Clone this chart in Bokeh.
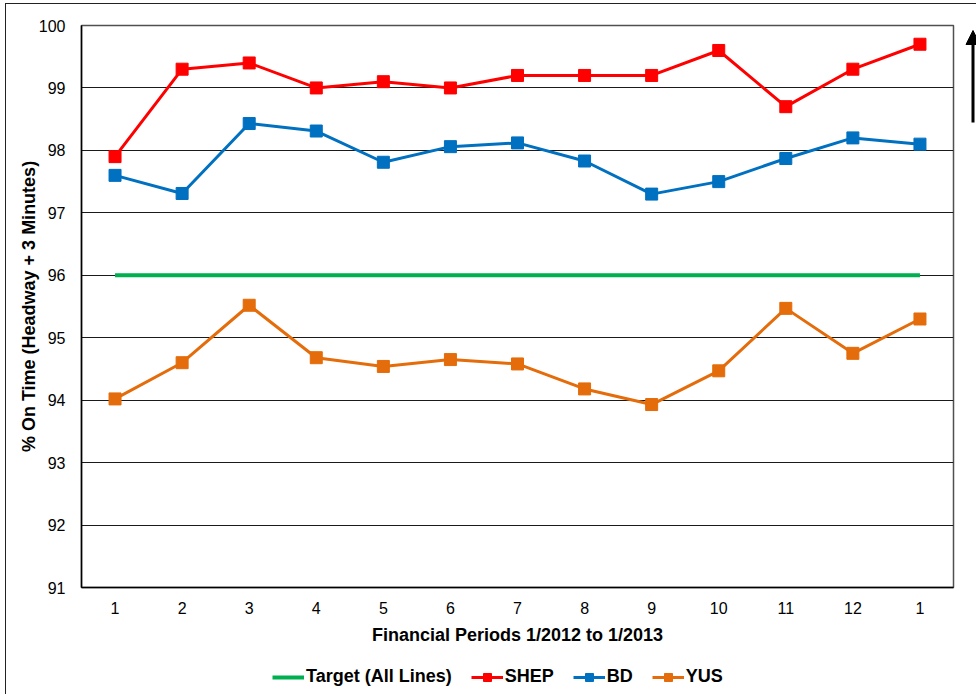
from bokeh.plotting import figure
from bokeh.layouts import row, column
from bokeh.models import (Range1d, FixedTicker, Legend, LegendItem, Arrow,
                          NormalHead)
from bokeh.embed import file_html
from bokeh.resources import INLINE

# Financial periods 1/2012 .. 1/2013 (13 periods)
periods = list(range(1, 14))
period_labels = ["1", "2", "3", "4", "5", "6", "7", "8", "9", "10", "11", "12", "1"]

# % on time (headway + 3 minutes) per line
target = [96.0] * 13
shep = [97.9, 99.3, 99.4, 99.0, 99.1, 99.0, 99.2, 99.2, 99.2, 99.6, 98.7, 99.3, 99.7]
bd = [97.6, 97.31, 98.43, 98.31, 97.81, 98.06, 98.12, 97.83, 97.3, 97.5, 97.87, 98.2, 98.1]
yus = [94.02, 94.6, 95.52, 94.68, 94.54, 94.65, 94.58, 94.18, 93.93, 94.47, 95.47, 94.75, 95.3]

y_ticks = [91, 92, 93, 94, 95, 96, 97, 98, 99, 100]

series_names = ["Target (All Lines)", "SHEP", "BD", "YUS"]
series_colors = ["#00B050", "#FF0000", "#0070C0", "#E46C0A"]
series_values = [target, shep, bd, yus]

FONT = "Liberation Sans"

p = figure(width=950, height=647, output_backend="svg", toolbar_location=None,
           x_range=Range1d(0.5, 13.5), y_range=Range1d(91, 100),
           min_border_left=75, min_border_right=3, min_border_top=21,
           min_border_bottom=64)

p.background_fill_color = "white"
p.border_fill_color = "white"
p.outline_line_color = "#505050"
p.outline_line_width = 1.5

# axes
p.xaxis.ticker = FixedTicker(ticks=periods)
p.xaxis.major_label_overrides = {i: lab for i, lab in zip(periods, period_labels)}
p.yaxis.ticker = FixedTicker(ticks=y_ticks)
for ax in (p.xaxis[0], p.yaxis[0]):
    ax.major_tick_line_color = None
    ax.minor_tick_line_color = None
    ax.major_tick_out = 0
    ax.major_tick_in = 0
    ax.axis_line_color = "black"
    ax.axis_line_width = 1.5
    ax.major_label_text_font = FONT
    ax.major_label_text_font_size = "16px"
    ax.major_label_text_color = "black"
    ax.axis_label_text_font = FONT
    ax.axis_label_text_font_style = "bold"
    ax.axis_label_text_font_size = "18px"
    ax.axis_label_text_color = "black"

p.xaxis.axis_label = "Financial Periods 1/2012 to 1/2013"
p.xaxis.major_label_standoff = 14
p.xaxis.axis_label_standoff = 8
p.yaxis.axis_label = "% On Time (Headway + 3 Minutes)"
p.yaxis.major_label_standoff = 16
p.yaxis.axis_label_standoff = -3

p.xgrid.grid_line_color = None
p.ygrid.grid_line_color = "#1a1a1a"
p.ygrid.grid_line_width = 1

# series
p.line(periods, target, line_color=series_colors[0], line_width=4)
for vals, color in zip(series_values[1:], series_colors[1:]):
    p.line(periods, vals, line_color=color, line_width=3)
    p.scatter(periods, vals, marker="square", size=12,
              fill_color=color, line_color=color)

# narrow side panel holding the upward "higher is better" arrow;
# its frame lines up with the main plot frame, so y runs in page pixels
q = figure(width=20, height=647, output_backend="svg", toolbar_location=None,
           x_range=Range1d(0, 20), y_range=Range1d(587, 25),
           x_axis_type=None, y_axis_type=None, min_border=0)
q.outline_line_color = None
q.xgrid.grid_line_color = None
q.ygrid.grid_line_color = None
q.add_layout(Arrow(end=NormalHead(size=14, fill_color="black", line_color="black"),
                   x_start=16.5, y_start=122, x_end=16.5, y_end=30,
                   line_color="black", line_width=3))

# legend strip under the chart; its proxy glyphs sit outside the visible range
r = figure(width=970, height=43, output_backend="svg", toolbar_location=None,
           x_range=Range1d(100, 101), y_range=Range1d(0, 1),
           x_axis_type=None, y_axis_type=None, min_border=0)
r.outline_line_color = None
r.xgrid.grid_line_color = None
r.ygrid.grid_line_color = None
items = []
for i, (name, color, vals) in enumerate(zip(series_names, series_colors, series_values)):
    if i == 0:
        rends = [r.line(periods, vals, line_color=color, line_width=4)]
    else:
        rends = [r.line(periods, vals, line_color=color, line_width=3),
                 r.scatter(periods, vals, marker="square", size=12,
                           fill_color=color, line_color=color)]
    items.append(LegendItem(label=name, renderers=rends))

legend = Legend(items=items, orientation="horizontal", location=(266, 7))
legend.label_text_font = FONT
legend.label_text_font_style = "bold"
legend.label_text_font_size = "18px"
legend.label_text_color = "black"
legend.glyph_width = 32
legend.label_standoff = 2
legend.spacing = 19
legend.padding = 5
legend.background_fill_alpha = 0
legend.border_line_color = None
r.add_layout(legend)

# chart area border (left and top edges visible in the window)
layout = column(row(p, q), r, margin=(3, 0, 0, 5),
                styles={"border-left": "1.5px solid #222222",
                        "border-top": "1.5px solid #222222"})

open("out.html", "w").write(file_html(layout, INLINE))
